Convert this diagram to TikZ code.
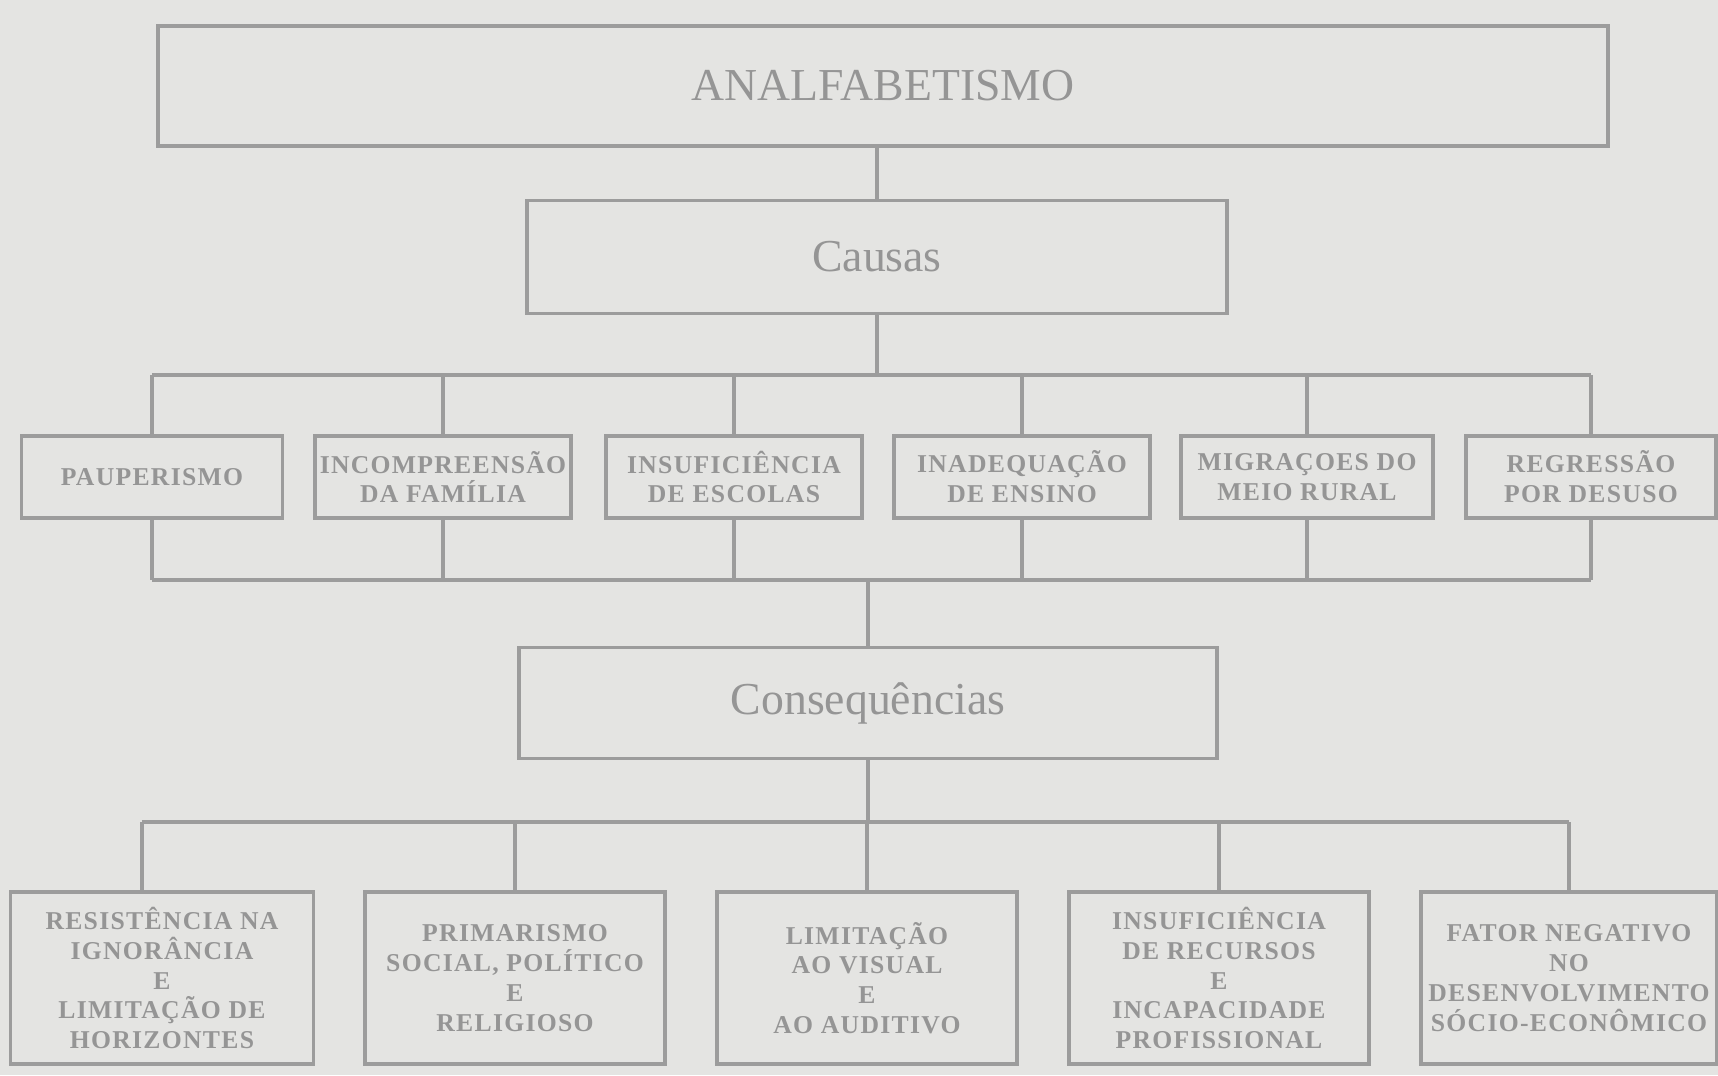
\documentclass[tikz,border=0pt]{standalone}
\usepackage{fontspec}
\setmainfont{Liberation Serif}
\newfontfamily\boxfont[LetterSpace=5]{Liberation Serif}
\usepackage{tikz}
\usetikzlibrary{positioning, calc}

\begin{document}
\begin{tikzpicture}[x=0.01cm, y=-0.01cm,
  every node/.style={inner sep=0pt, align=center},
  bigbox/.style={draw=lnGray, line width=1pt, text=txGray, font=\fontsize{13}{15}\selectfont},
  causebox/.style={draw=lnGray, line width=1pt, text=txGray, minimum width=2.56cm, minimum height=0.82cm, font=\boxfont\bfseries\fontsize{7.3}{8.5}\selectfont},
  consbox/.style={causebox, minimum width=3.0cm, minimum height=1.72cm},
  link/.style={draw=lnGray, line width=1pt}]
\definecolor{bgPaper}{HTML}{E4E4E2}
\definecolor{lnGray}{HTML}{9C9C9C}
\definecolor{txGray}{HTML}{959595}
\fill[bgPaper] (0,0) rectangle (1718,1075);
\useasboundingbox (0,0) rectangle (1718,1075);
\node[bigbox, minimum width=14.49cm, minimum height=1.20cm] (analf) at (883,86) {ANALFABETISMO};
\node[bigbox, minimum width=7.00cm, minimum height=1.13cm] (causas) at (877,257) {Causas};
\node[causebox, minimum width=2.61cm] (pauper) at (152,477) {PAUPERISMO};
\node[causebox] (familia) at (443,477) {INCOMPREENSÃO\\DA FAMÍLIA};
\node[causebox] (escolas) at (734,477) {INSUFICIÊNCIA\\DE ESCOLAS};
\node[causebox] (ensino)  at (1022,477) {INADEQUAÇÃO\\DE ENSINO};
\node[causebox, minimum width=2.52cm] (migra)  at (1307,477) {MIGRAÇOES DO\\MEIO RURAL};
\node[causebox, minimum width=2.50cm] (desuso) at (1591,477) {REGRESSÃO\\POR DESUSO};
\node[bigbox, minimum width=6.98cm, minimum height=1.11cm] (consq) at (868,703) {Consequências};
\node[consbox, minimum width=3.03cm] (horiz) at (162,978) {RESISTÊNCIA NA\\IGNORÂNCIA\\E\\LIMITAÇÃO DE\\HORIZONTES};
\node[consbox] (primar) at (515,978) {PRIMARISMO\\SOCIAL, POLÍTICO\\E\\RELIGIOSO};
\node[consbox] (visual) at (867,978) {LIMITAÇÃO\\AO VISUAL\\E\\AO AUDITIVO};
\node[consbox] (recurs) at (1219,978) {INSUFICIÊNCIA\\DE RECURSOS\\E\\INCAPACIDADE\\PROFISSIONAL};
\node[consbox, minimum width=2.96cm] (fator) at (1569,978) {FATOR NEGATIVO\\NO\\DESENVOLVIMENTO\\SÓCIO-ECONÔMICO};
\coordinate (barC) at (0,375);
\coordinate (barM) at (0,580);
\coordinate (barQ) at (0,822);
\coordinate (horizTop) at ([xshift=-0.2cm]horiz.north);
\draw[link] (causas.north) -- (causas.north |- analf.south);
\draw[link] (causas.south) -- (causas.south |- barC);
\draw[link] (pauper.north |- barC) -- (desuso.north |- barC);
\draw[link] (pauper.south |- barM) -- (desuso.south |- barM);
\foreach \n in {pauper, familia, escolas, ensino, migra, desuso} {
  \draw[link] (\n.north) -- (\n.north |- barC);
  \draw[link] (\n.south) -- (\n.south |- barM);
}
\draw[link] (consq.north |- barM) -- (consq.north);
\draw[link] (consq.south) -- (consq.south |- barQ);
\draw[link] (horizTop |- barQ) -- (fator.north |- barQ);
\draw[link] (horizTop) -- (horizTop |- barQ);
\foreach \n in {primar, visual, recurs, fator}
  \draw[link] (\n.north) -- (\n.north |- barQ);
\end{tikzpicture}
\end{document}
